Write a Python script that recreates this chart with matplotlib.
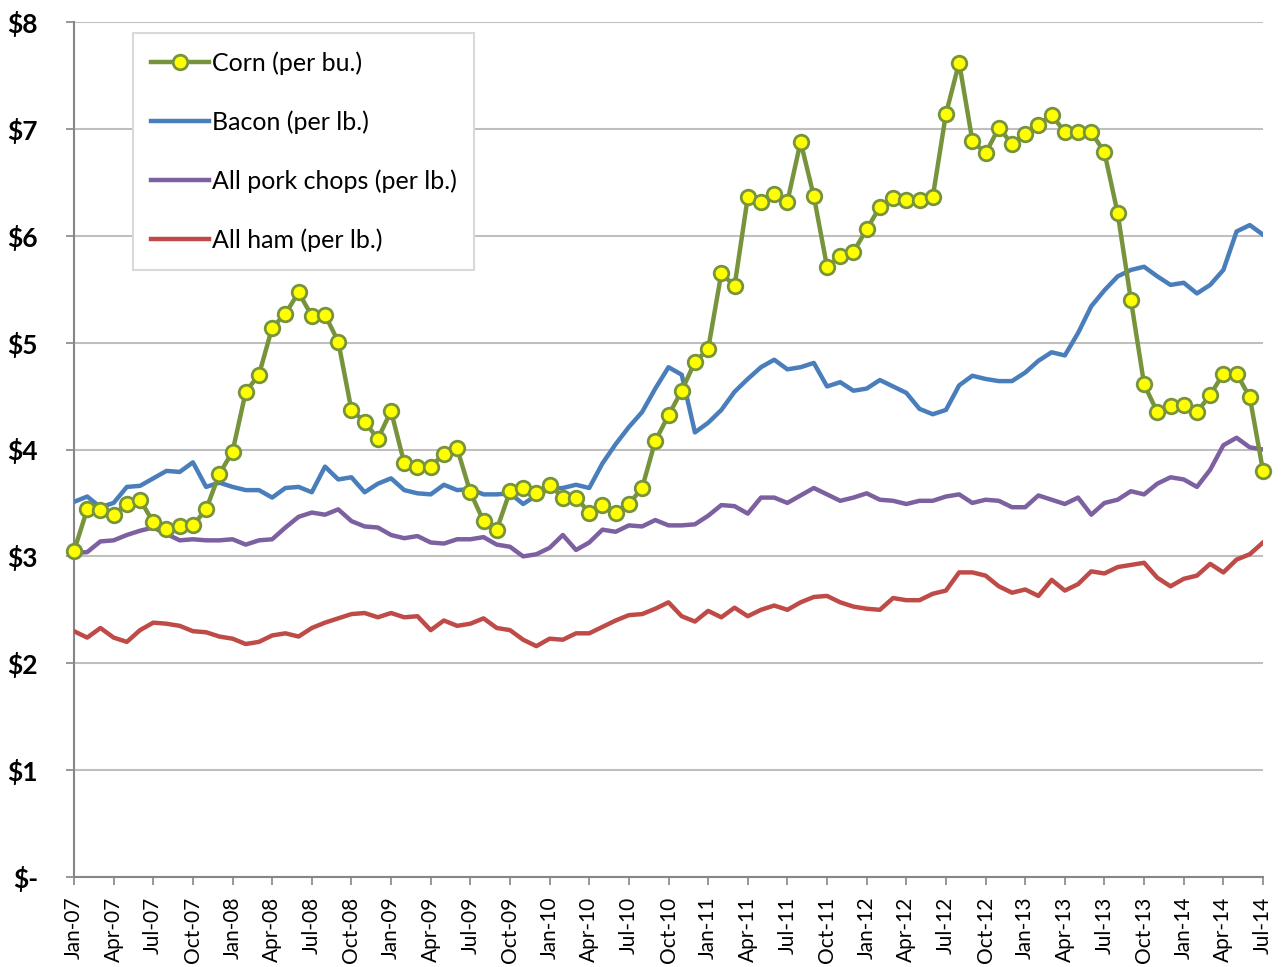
import matplotlib.pyplot as plt
import numpy as np

# monthly prices, Jan-07 .. Jul-14
corn = [3.05, 3.44, 3.43, 3.39, 3.49, 3.53, 3.32, 3.26, 3.28, 3.29, 3.44, 3.77,
        3.98, 4.54, 4.70, 5.14, 5.27, 5.47, 5.25, 5.26, 5.01, 4.37, 4.26, 4.10,
        4.36, 3.87, 3.84, 3.84, 3.96, 4.01, 3.60, 3.33, 3.25, 3.61, 3.64, 3.59,
        3.67, 3.55, 3.55, 3.41, 3.48, 3.41, 3.49, 3.64, 4.08, 4.32, 4.55, 4.82,
        4.94, 5.65, 5.53, 6.36, 6.32, 6.39, 6.32, 6.88, 6.37, 5.71, 5.81, 5.85,
        6.06, 6.27, 6.35, 6.33, 6.33, 6.36, 7.14, 7.62, 6.89, 6.77, 7.01, 6.86,
        6.95, 7.04, 7.13, 6.97, 6.97, 6.97, 6.78, 6.21, 5.40, 4.61, 4.35, 4.41,
        4.42, 4.35, 4.51, 4.71, 4.71, 4.49, 3.80]
bacon = [3.51, 3.56, 3.46, 3.50, 3.65, 3.66, 3.73, 3.80, 3.79, 3.88, 3.65, 3.69,
         3.65, 3.62, 3.62, 3.55, 3.64, 3.65, 3.60, 3.84, 3.72, 3.74, 3.60, 3.68,
         3.73, 3.62, 3.59, 3.58, 3.67, 3.62, 3.63, 3.58, 3.58, 3.59, 3.49, 3.57,
         3.63, 3.64, 3.67, 3.64, 3.87, 4.05, 4.21, 4.35, 4.57, 4.77, 4.70, 4.16,
         4.25, 4.37, 4.54, 4.66, 4.77, 4.84, 4.75, 4.77, 4.81, 4.59, 4.63, 4.55,
         4.57, 4.65, 4.59, 4.53, 4.38, 4.33, 4.37, 4.60, 4.69, 4.66, 4.64, 4.64,
         4.72, 4.83, 4.91, 4.88, 5.09, 5.34, 5.49, 5.62, 5.68, 5.71, 5.62, 5.54,
         5.56, 5.46, 5.54, 5.68, 6.04, 6.10, 6.01]
pork_chops = [3.03, 3.04, 3.14, 3.15, 3.20, 3.24, 3.27, 3.21, 3.15, 3.16, 3.15, 3.15,
              3.16, 3.11, 3.15, 3.16, 3.27, 3.37, 3.41, 3.39, 3.44, 3.33, 3.28, 3.27,
              3.20, 3.17, 3.19, 3.13, 3.12, 3.16, 3.16, 3.18, 3.11, 3.09, 3.00, 3.02,
              3.08, 3.20, 3.06, 3.13, 3.25, 3.23, 3.29, 3.28, 3.34, 3.29, 3.29, 3.30,
              3.38, 3.48, 3.47, 3.40, 3.55, 3.55, 3.50, 3.57, 3.64, 3.58, 3.52, 3.55,
              3.59, 3.53, 3.52, 3.49, 3.52, 3.52, 3.56, 3.58, 3.50, 3.53, 3.52, 3.46,
              3.46, 3.57, 3.53, 3.49, 3.55, 3.39, 3.50, 3.53, 3.61, 3.58, 3.68, 3.74,
              3.72, 3.65, 3.81, 4.04, 4.11, 4.02, 4.00]
ham = [2.30, 2.24, 2.33, 2.24, 2.20, 2.31, 2.38, 2.37, 2.35, 2.30, 2.29, 2.25,
       2.23, 2.18, 2.20, 2.26, 2.28, 2.25, 2.33, 2.38, 2.42, 2.46, 2.47, 2.43,
       2.47, 2.43, 2.44, 2.31, 2.40, 2.35, 2.37, 2.42, 2.33, 2.31, 2.22, 2.16,
       2.23, 2.22, 2.28, 2.28, 2.34, 2.40, 2.45, 2.46, 2.51, 2.57, 2.44, 2.39,
       2.49, 2.43, 2.52, 2.44, 2.50, 2.54, 2.50, 2.57, 2.62, 2.63, 2.57, 2.53,
       2.51, 2.50, 2.61, 2.59, 2.59, 2.65, 2.68, 2.85, 2.85, 2.82, 2.72, 2.66,
       2.69, 2.63, 2.78, 2.68, 2.74, 2.86, 2.84, 2.90, 2.92, 2.94, 2.80, 2.72,
       2.79, 2.82, 2.93, 2.85, 2.97, 3.02, 3.13]

months = ['Jan', 'Feb', 'Mar', 'Apr', 'May', 'Jun', 'Jul', 'Aug', 'Sep', 'Oct', 'Nov', 'Dec']
labels = [f"{months[i % 12]}-{7 + i // 12:02d}" for i in range(len(corn))]
y_labels = ['$-', '$1', '$2', '$3', '$4', '$5', '$6', '$7', '$8']

plt.rcParams['font.family'] = ['Lato', 'DejaVu Sans']

fig = plt.figure(figsize=(12.85, 9.67), dpi=100)
ax = fig.add_axes([74/1285, 1 - 877/967, 1189/1285, 855/967])

x = np.arange(len(corn))
ax.plot(x, corn, color='#77933C', lw=3.2, marker='o', ms=10.5,
        mfc='#FFFF00', mec='#77933C', mew=2, clip_on=False, zorder=5,
        label='Corn (per bu.)')
ax.plot(x, bacon, color='#4A7EBB', lw=3.2, label='Bacon (per lb.)', zorder=4)
ax.plot(x, pork_chops, color='#7D60A0', lw=3.2, label='All pork chops (per lb.)', zorder=4)
ax.plot(x, ham, color='#BE4B48', lw=3.2, label='All ham (per lb.)', zorder=4)

ax.set_xlim(0, len(corn) - 1)
ax.set_ylim(0, 8)
ax.set_xticks(x[::3])
ax.set_xticklabels(labels[::3], rotation=90, fontsize=15)
ax.set_yticks(range(9))
ax.set_yticklabels(y_labels, fontsize=19, fontweight='bold')

ax.grid(axis='y', color='#BFBFBF', lw=1.5)
ax.set_axisbelow(True)
for s in ['top', 'right']:
    ax.spines[s].set_visible(False)
for s in ['left', 'bottom']:
    ax.spines[s].set_color('#868686')
    ax.spines[s].set_linewidth(1.5)
ax.tick_params(axis='y', length=6, width=1.2, color='#868686', pad=20)
ax.tick_params(axis='x', length=6, width=1.2, color='#868686', pad=8)

leg = ax.legend(loc='upper left', bbox_to_anchor=(59/1189, 1 - 11/855), borderaxespad=0,
                fontsize=18, frameon=True, fancybox=False, edgecolor='#D9D9D9',
                handlelength=2.3, handletextpad=0.12, labelspacing=1.42,
                borderpad=0.72, framealpha=1)
leg.get_frame().set_linewidth(1.5)

plt.savefig('out.png', dpi=100)
